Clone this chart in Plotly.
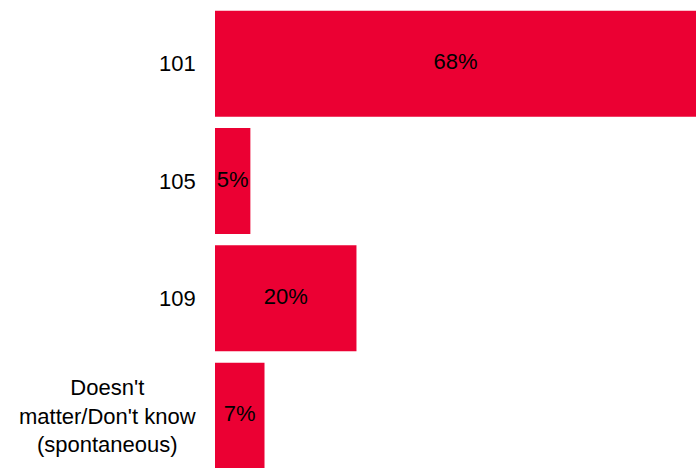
import plotly.graph_objects as go

# Survey answers and their shares (%)
categories = ["101", "105", "109", "Doesn't<br>matter/Don't know<br>(spontaneous)"]
shares = [68, 5, 20, 7]
share_labels = [f"{v}%" for v in shares]

bar_color = "#EB0033"
font_family = "Liberation Sans, Arial, sans-serif"

fig = go.Figure()

fig.add_trace(go.Bar(
    x=shares,
    y=categories,
    orientation="h",
    marker=dict(color=bar_color, line=dict(width=0)),
    hoverinfo="skip",
))

# Value labels centred in each bar
fig.add_trace(go.Scatter(
    x=[v / 2 for v in shares],
    y=categories,
    mode="text",
    text=share_labels,
    textposition="middle center",
    textfont=dict(family=font_family, size=22, color="black"),
    hoverinfo="skip",
    cliponaxis=False,
))

# Category labels, centre-aligned block to the left of the bars
# (placed by category index so numeric-looking names are not read as values)
for i, cat in enumerate(categories):
    fig.add_annotation(
        x=0, xref="paper", xanchor="right", xshift=-17,
        y=i, yref="y", yanchor="middle",
        text=cat, showarrow=False, align="center",
        font=dict(family=font_family, size=22, color="black"),
    )

fig.update_layout(
    width=696, height=468,
    margin=dict(l=215, r=0, t=5, b=0),
    paper_bgcolor="white", plot_bgcolor="white",
    showlegend=False,
    bargap=0.097,
    xaxis=dict(range=[0, 68], visible=False, fixedrange=True),
    yaxis=dict(
        type="category",
        categoryorder="array", categoryarray=categories,
        range=[-0.5 + 463 / 117.33, -0.5],
        showticklabels=False, showgrid=False, zeroline=False,
        showline=False, ticks="", fixedrange=True,
    ),
)

fig.write_html("out.html")
